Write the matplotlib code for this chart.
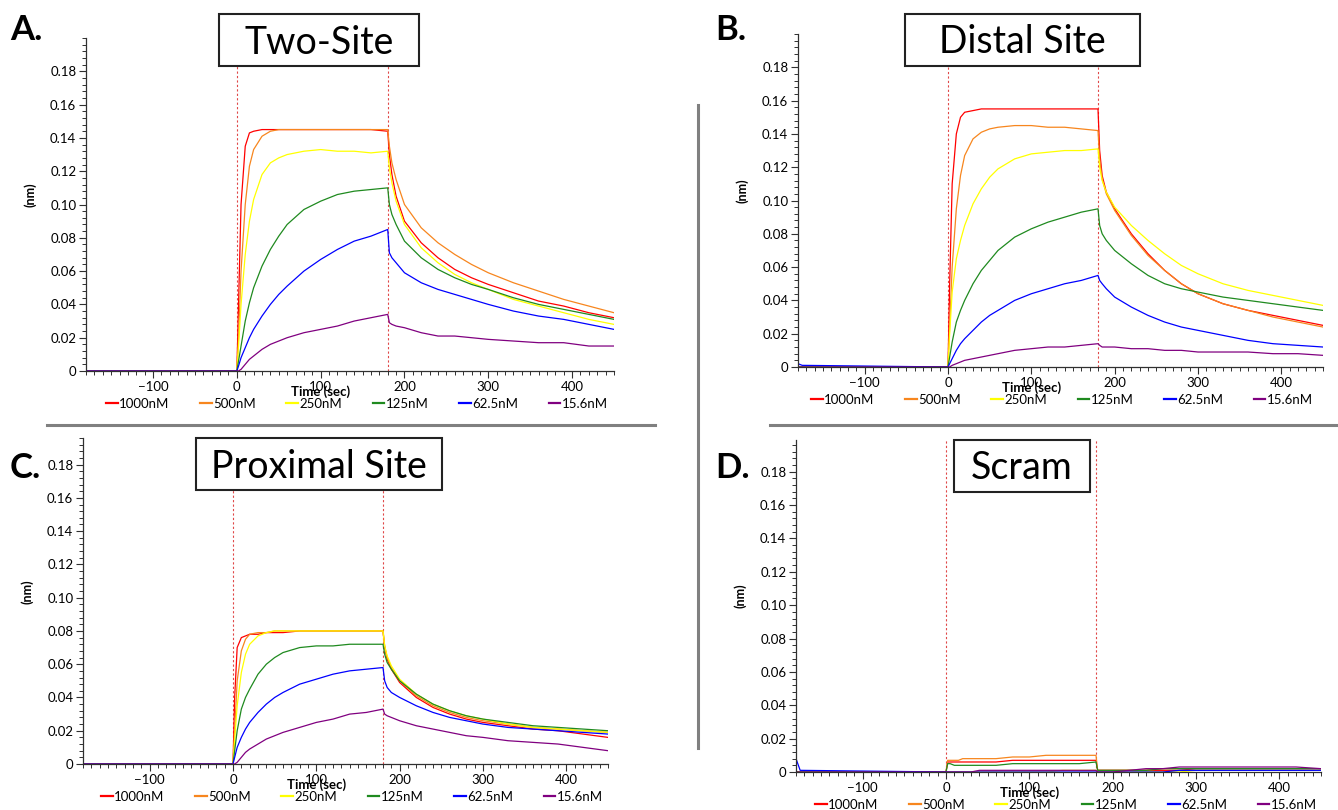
import matplotlib
matplotlib.use('Agg')
import matplotlib.pyplot as plt
from matplotlib.lines import Line2D
from matplotlib.patches import Rectangle
from matplotlib.ticker import MultipleLocator, FuncFormatter

W, H = 1338, 810

# time points (sec) shared by every trace
T = [-180, -175, 0, 2, 5, 10, 15, 20, 30, 40, 50, 60, 80, 100, 120, 140, 160, 180,
     182, 185, 190, 200, 220, 240, 260, 280, 300, 330, 360, 390, 420, 450]

CONC = ['1000nM', '500nM', '250nM', '125nM', '62.5nM', '15.6nM']
COLORS = ['#ff0000', '#f7861e', '#ffff00', '#1f8a1f', '#0000ff', '#800080']

# A. Two-Site
A_1000 = [0, 0, 0, 0.04, 0.10, 0.135, 0.143, 0.144, 0.145, 0.145, 0.145, 0.145, 0.145, 0.145, 0.145, 0.145, 0.145, 0.144,
          0.130, 0.118, 0.105, 0.090, 0.077, 0.068, 0.061, 0.056, 0.052, 0.047, 0.042, 0.039, 0.035, 0.032]
A_500 = [0, 0, 0, 0.02, 0.06, 0.10, 0.123, 0.133, 0.141, 0.144, 0.145, 0.145, 0.145, 0.145, 0.145, 0.145, 0.145, 0.145,
         0.135, 0.125, 0.115, 0.100, 0.086, 0.077, 0.070, 0.064, 0.059, 0.053, 0.048, 0.043, 0.039, 0.035]
A_250 = [0, 0, 0, 0.015, 0.04, 0.07, 0.09, 0.103, 0.118, 0.125, 0.128, 0.130, 0.132, 0.133, 0.132, 0.132, 0.131, 0.132,
         0.122, 0.113, 0.102, 0.088, 0.074, 0.065, 0.058, 0.053, 0.049, 0.043, 0.039, 0.035, 0.031, 0.028]
A_125 = [0, 0, 0, 0.006, 0.015, 0.03, 0.041, 0.05, 0.063, 0.073, 0.081, 0.088, 0.097, 0.102, 0.106, 0.108, 0.109, 0.110,
         0.100, 0.094, 0.088, 0.078, 0.068, 0.061, 0.056, 0.052, 0.049, 0.044, 0.040, 0.037, 0.034, 0.031]
A_62 = [0, 0, 0, 0.003, 0.008, 0.014, 0.020, 0.025, 0.033, 0.040, 0.046, 0.051, 0.060, 0.067, 0.073, 0.078, 0.081, 0.085,
        0.071, 0.068, 0.065, 0.059, 0.053, 0.049, 0.046, 0.043, 0.040, 0.036, 0.033, 0.031, 0.028, 0.025]
A_15 = [0, 0, 0, 0, 0.001, 0.004, 0.007, 0.009, 0.013, 0.016, 0.018, 0.020, 0.023, 0.025, 0.027, 0.030, 0.032, 0.034,
        0.029, 0.028, 0.027, 0.026, 0.023, 0.021, 0.021, 0.020, 0.019, 0.018, 0.017, 0.017, 0.015, 0.015]

# B. Distal Site
B_1000 = [0, 0, 0, 0.05, 0.11, 0.14, 0.150, 0.153, 0.154, 0.155, 0.155, 0.155, 0.155, 0.155, 0.155, 0.155, 0.155, 0.155,
          0.130, 0.115, 0.105, 0.095, 0.080, 0.068, 0.058, 0.050, 0.044, 0.038, 0.034, 0.031, 0.028, 0.025]
B_500 = [0, 0, 0, 0.025, 0.06, 0.095, 0.115, 0.127, 0.137, 0.141, 0.143, 0.144, 0.145, 0.145, 0.144, 0.144, 0.143, 0.142,
         0.125, 0.113, 0.104, 0.094, 0.079, 0.067, 0.058, 0.050, 0.044, 0.038, 0.034, 0.030, 0.027, 0.024]
B_250 = [0, 0, 0, 0.02, 0.045, 0.065, 0.076, 0.085, 0.098, 0.107, 0.114, 0.119, 0.125, 0.128, 0.129, 0.130, 0.130, 0.131,
         0.120, 0.112, 0.105, 0.096, 0.085, 0.076, 0.068, 0.061, 0.056, 0.050, 0.046, 0.043, 0.040, 0.037]
B_125 = [0, 0, 0, 0.006, 0.015, 0.027, 0.034, 0.040, 0.050, 0.058, 0.064, 0.070, 0.078, 0.083, 0.087, 0.090, 0.093, 0.095,
         0.085, 0.080, 0.076, 0.070, 0.062, 0.055, 0.050, 0.047, 0.045, 0.042, 0.040, 0.038, 0.036, 0.034]
B_62 = [0.002, 0.001, 0, 0.002, 0.005, 0.010, 0.014, 0.017, 0.022, 0.027, 0.031, 0.034, 0.040, 0.044, 0.047, 0.050, 0.052, 0.055,
        0.052, 0.050, 0.047, 0.042, 0.036, 0.031, 0.027, 0.024, 0.022, 0.019, 0.016, 0.014, 0.013, 0.012]
B_15 = [0, 0, 0, 0, 0.001, 0.002, 0.003, 0.004, 0.005, 0.006, 0.007, 0.008, 0.010, 0.011, 0.012, 0.012, 0.013, 0.014,
        0.013, 0.012, 0.012, 0.012, 0.011, 0.011, 0.010, 0.010, 0.009, 0.009, 0.009, 0.008, 0.008, 0.007]

# C. Proximal Site
C_1000 = [0, 0, 0, 0.04, 0.07, 0.076, 0.077, 0.078, 0.078, 0.079, 0.079, 0.079, 0.080, 0.080, 0.080, 0.080, 0.080, 0.080,
          0.070, 0.063, 0.057, 0.049, 0.040, 0.034, 0.030, 0.027, 0.025, 0.023, 0.021, 0.020, 0.018, 0.016]
C_500 = [0, 0, 0, 0.02, 0.05, 0.068, 0.075, 0.078, 0.079, 0.079, 0.080, 0.080, 0.080, 0.080, 0.080, 0.080, 0.080, 0.080,
         0.071, 0.064, 0.058, 0.050, 0.041, 0.035, 0.031, 0.028, 0.026, 0.024, 0.022, 0.021, 0.020, 0.019]
C_250 = [0, 0, 0, 0.015, 0.035, 0.055, 0.066, 0.072, 0.077, 0.079, 0.080, 0.080, 0.080, 0.080, 0.080, 0.080, 0.080, 0.080,
         0.071, 0.065, 0.059, 0.051, 0.042, 0.036, 0.032, 0.029, 0.027, 0.024, 0.022, 0.021, 0.020, 0.019]
C_125 = [0, 0, 0, 0.008, 0.020, 0.033, 0.040, 0.045, 0.054, 0.060, 0.064, 0.067, 0.070, 0.071, 0.071, 0.072, 0.072, 0.072,
         0.066, 0.061, 0.057, 0.050, 0.042, 0.036, 0.032, 0.029, 0.027, 0.025, 0.023, 0.022, 0.021, 0.020]
C_62 = [0, 0, 0, 0.004, 0.010, 0.016, 0.021, 0.025, 0.031, 0.036, 0.040, 0.043, 0.048, 0.051, 0.054, 0.056, 0.057, 0.058,
        0.050, 0.046, 0.043, 0.040, 0.035, 0.031, 0.028, 0.026, 0.024, 0.022, 0.021, 0.020, 0.019, 0.018]
C_15 = [0, 0, 0, 0, 0.001, 0.004, 0.007, 0.009, 0.012, 0.015, 0.017, 0.019, 0.022, 0.025, 0.027, 0.030, 0.031, 0.033,
        0.030, 0.029, 0.028, 0.026, 0.023, 0.021, 0.019, 0.017, 0.016, 0.014, 0.013, 0.012, 0.010, 0.008]

# D. Scram
D_1000 = [0, 0, 0, 0.006, 0.006, 0.006, 0.006, 0.006, 0.006, 0.006, 0.006, 0.006, 0.007, 0.007, 0.007, 0.007, 0.007, 0.007,
          0.001, 0.001, 0.001, 0.001, 0.001, 0.001, 0.001, 0.001, 0.002, 0.002, 0.002, 0.002, 0.002, 0.002]
D_500 = [0, 0, 0, 0.007, 0.007, 0.007, 0.007, 0.008, 0.008, 0.008, 0.008, 0.008, 0.009, 0.009, 0.010, 0.010, 0.010, 0.010,
         0.001, 0.001, 0.001, 0.001, 0.001, 0.001, 0.002, 0.002, 0.002, 0.002, 0.002, 0.002, 0.002, 0.002]
D_250 = [0, 0, 0, 0, 0, 0, 0, 0, 0, 0, 0, 0, 0, 0, 0, 0.001, 0.001, 0.001,
         0, 0, 0, 0, 0, 0, 0, 0, 0.001, 0.001, 0.001, 0.001, 0.001, 0.001]
D_125 = [0, 0, 0, 0.005, 0.005, 0.004, 0.004, 0.004, 0.004, 0.004, 0.004, 0.004, 0.005, 0.005, 0.005, 0.005, 0.005, 0.006,
         0.001, 0.001, 0.001, 0.001, 0.001, 0.001, 0.002, 0.002, 0.002, 0.002, 0.002, 0.002, 0.002, 0.002]
D_62 = [0.008, 0.001, 0, 0, 0, 0, 0, 0, 0, 0, 0, 0, 0, 0, 0, 0, 0, 0,
        0, 0, 0, 0, 0, 0, 0, 0.001, 0.001, 0.001, 0.001, 0.001, 0.001, 0.001]
D_15 = [0, 0, 0, 0, 0, 0, 0, 0, 0, 0.001, 0.001, 0.001, 0.001, 0.001, 0.001, 0.001, 0.001, 0.001,
        0, 0, 0, 0, 0.001, 0.002, 0.002, 0.003, 0.003, 0.003, 0.003, 0.003, 0.003, 0.002]

LETTERS = ['A.', 'B.', 'C.', 'D.']
TITLES = ['Two-Site', 'Distal Site', 'Proximal Site', 'Scram']
SERIES = [
    [A_1000, A_500, A_250, A_125, A_62, A_15],
    [B_1000, B_500, B_250, B_125, B_62, B_15],
    [C_1000, C_500, C_250, C_125, C_62, C_15],
    [D_1000, D_500, D_250, D_125, D_62, D_15],
]

# layout in pixels: axes (left, right, y of zero, top), y-limit top
AX_PX = [(86, 614, 371, 38), (798, 1323, 367, 34), (83, 608, 764, 438), (796, 1321, 772, 440)]
YTOP = [0.2, 0.2, 0.196, 0.199]
BOX_PX = [(219, 419, 14, 66), (905, 1140, 14, 66), (196, 442, 438, 490), (954, 1090, 440, 492)]
TITLE_BASE = [54, 53, 478, 479]
LETTER_PX = [(10, 40), (715, 40), (10, 478), (715, 478)]
LEG_CX = [357, 1062, 352, 1066]

plt.rcParams['font.family'] = ['Lato', 'DejaVu Sans']


def fx(x):
    return x / W


def fy(y):
    return 1 - y / H


def main():
    fig = plt.figure(figsize=(W / 100, H / 100), dpi=100)

    for i in range(4):
        left, right, y0, top = AX_PX[i]
        ax = fig.add_axes([fx(left), fy(y0), (right - left) / W, (y0 - top) / H])
        for vals, c, lab in zip(SERIES[i], COLORS, CONC):
            ax.plot(T, vals, color=c, lw=0.9, label=lab)
        for t in (0, 180):
            ax.axvline(t, color='#e04848', lw=0.8, ls=(0, (2, 2)), zorder=0)

        ax.set_xlim(-180, 450)
        ax.set_ylim(0, YTOP[i])
        ax.spines['top'].set_visible(False)
        ax.spines['right'].set_visible(False)
        for s in ('left', 'bottom'):
            ax.spines[s].set_color('#303030')
            ax.spines[s].set_linewidth(0.9)
        ax.xaxis.set_major_locator(MultipleLocator(100))
        ax.xaxis.set_minor_locator(MultipleLocator(10))
        ax.yaxis.set_minor_locator(MultipleLocator(0.004))
        ax.set_yticks([k * 0.02 for k in range(10)])
        ax.yaxis.set_major_formatter(FuncFormatter(lambda v, p: '0' if abs(v) < 1e-9 else f'{v:.2f}'))
        ax.tick_params(which='major', length=5, width=0.8, labelsize=9.5, pad=2, color='#303030')
        ax.tick_params(which='minor', length=3, width=0.7, color='#303030')

        h = y0 - top
        ax.text(0.444, -21 / h, 'Time (sec)', transform=ax.transAxes, ha='center', va='center',
                fontsize=9.5, fontweight='bold')
        ax.text(-56 / (right - left), 0.53, '(nm)', transform=ax.transAxes, rotation=90,
                ha='center', va='center', fontsize=9, fontweight='bold')

        handles = [Line2D([], [], color=c, lw=1.6) for c in COLORS]
        ax.legend(handles, CONC, loc='center', bbox_to_anchor=(fx(LEG_CX[i]), fy(y0 + 33)),
                  bbox_transform=fig.transFigure, ncol=6, frameon=False, fontsize=9.5,
                  handlelength=0.9, handletextpad=0.1, columnspacing=2.3,
                  borderpad=0, borderaxespad=0)

        # title box
        bx0, bx1, by0, by1 = BOX_PX[i]
        fig.patches.append(Rectangle((fx(bx0), fy(by1)), (bx1 - bx0) / W, (by1 - by0) / H,
                                     transform=fig.transFigure, facecolor='white',
                                     edgecolor='#222222', lw=1.5, zorder=5))
        fig.text(fx((bx0 + bx1) / 2), fy(TITLE_BASE[i]), TITLES[i], ha='center', va='baseline',
                 fontsize=27, zorder=6)
        lx, ly = LETTER_PX[i]
        fig.text(fx(lx), fy(ly), LETTERS[i], ha='left', va='baseline', fontsize=25,
                 fontweight='bold', zorder=6)

    # separators
    sep = dict(color='#808080', lw=2.2, transform=fig.transFigure, zorder=4)
    fig.lines.append(Line2D([fx(698), fx(698)], [fy(105), fy(748)], **sep))
    fig.lines.append(Line2D([fx(47), fx(655)], [fy(425), fy(425)], **sep))
    fig.lines.append(Line2D([fx(770), fx(1338)], [fy(425), fy(425)], **sep))

    fig.savefig('out.png', dpi=100)


if __name__ == '__main__':
    main()
